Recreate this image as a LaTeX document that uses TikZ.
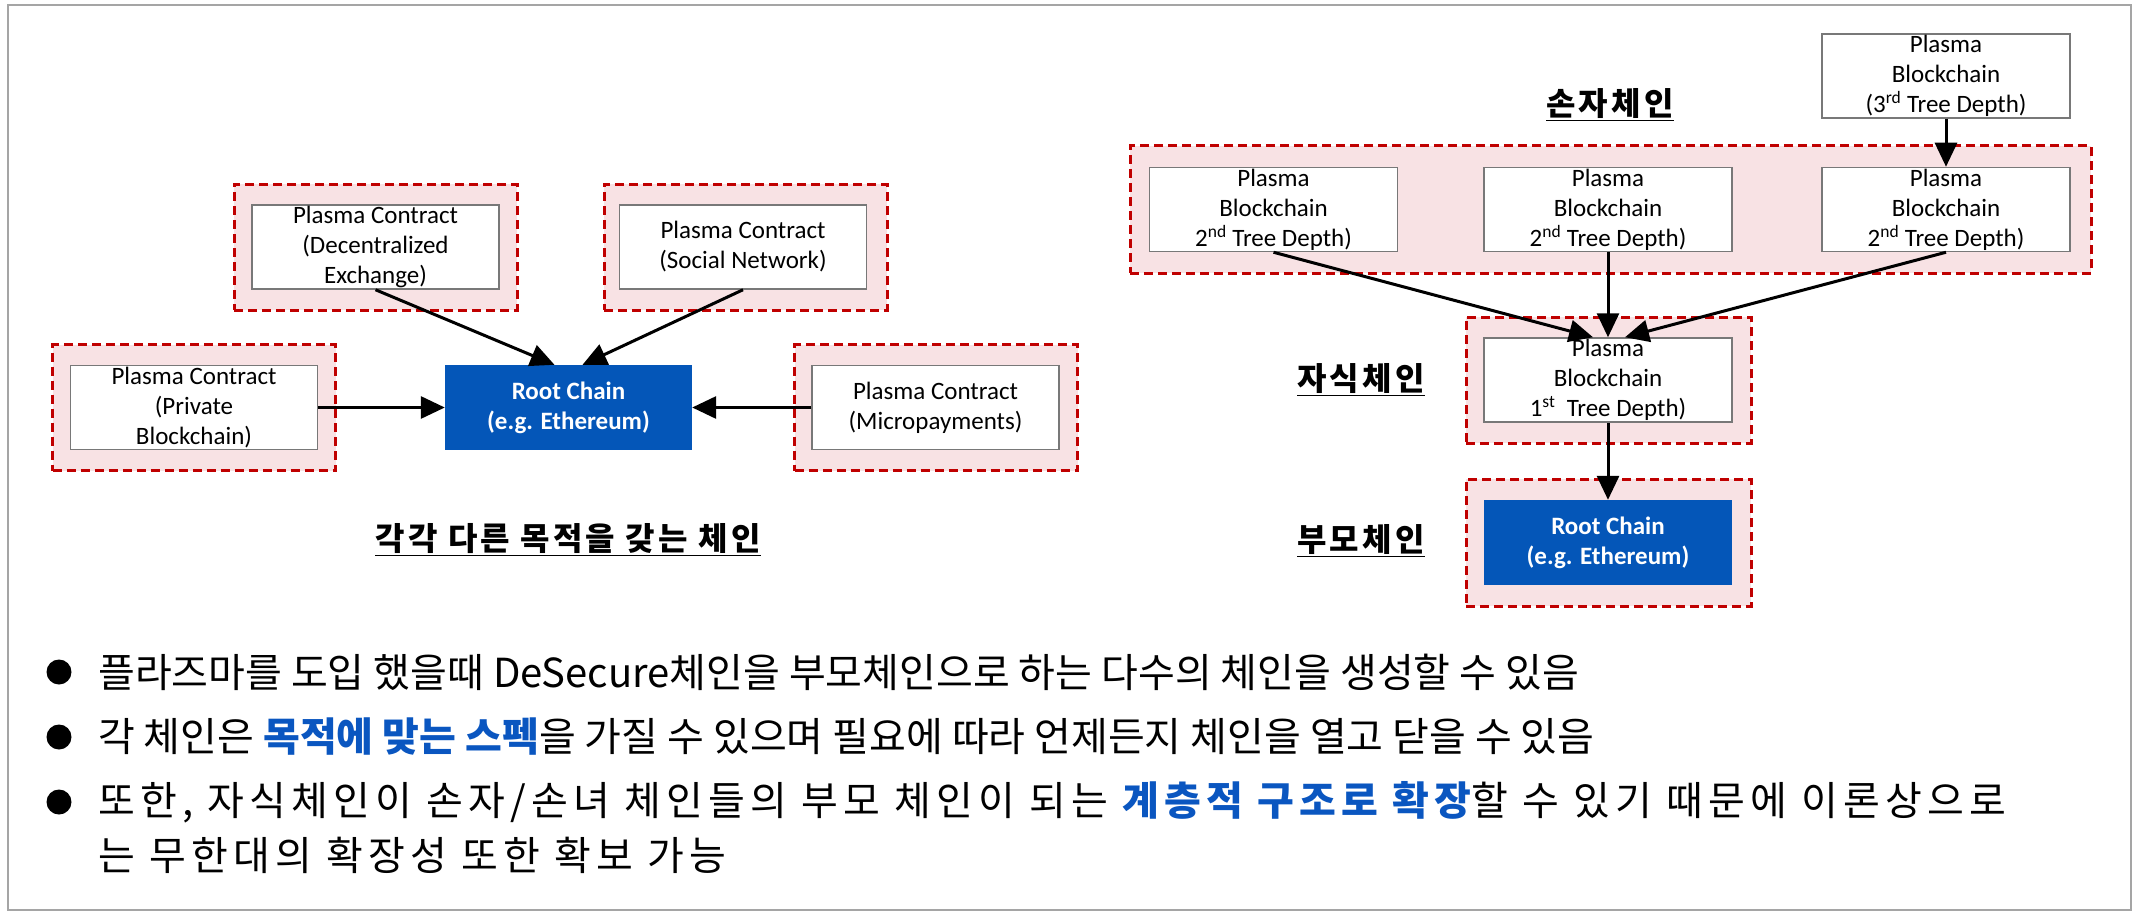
\documentclass[tikz,border=0pt]{standalone}
\usepackage{fontspec}
\setmainfont{Carlito}
\newfontfamily\kr{Noto Sans CJK KR}
\newfontfamily\krw{Noto Sans CJK KR}[LetterSpace=10]
\newfontfamily\krww{Noto Sans CJK KR}[LetterSpace=13]
\usetikzlibrary{arrows.meta}
\definecolor{rootblue}{RGB}{4,86,184}
\definecolor{pinkbg}{RGB}{248,226,228}
\definecolor{dashred}{RGB}{192,0,0}
\definecolor{hlblue}{RGB}{10,86,192}
\definecolor{boxgray}{RGB}{120,120,120}
\definecolor{framegray}{RGB}{165,165,165}
\begin{document}
\begin{tikzpicture}[x=1pt,y=-1pt,
  grp/.style={draw=dashred, fill=pinkbg, dash pattern=on 9pt off 5pt, line width=3pt, minimum width=283pt, minimum height=126pt, inner sep=0pt},
  pbox/.style={draw=boxgray, fill=white, line width=1.5pt, minimum width=247pt, minimum height=84pt, inner sep=0pt, align=center, font=\fontsize{25}{30}\selectfont},
  rootbox/.style={fill=rootblue, text=white, minimum width=247pt, minimum height=85pt, inner sep=0pt, align=center, font=\fontsize{25}{30}\selectfont\bfseries},
  arr/.style={line width=3pt, -{Triangle[length=24pt,width=22pt]}},
  lbl/.style={font=\krw\bfseries\fontsize{32}{38}\selectfont, inner sep=0pt},
  bul/.style={font=\kr\fontsize{40}{48}\selectfont, anchor=west, inner sep=0pt},
  bulw/.style={font=\krww\fontsize{40}{48}\selectfont, anchor=west, inner sep=0pt},
  dot/.style={circle, fill=black, minimum width=23pt, minimum height=25pt, inner sep=0pt}
]
\useasboundingbox (0,0) rectangle (2134,915);
\draw[framegray, line width=2pt] (8,5) rectangle (2131,910);

% ---------- left diagram ----------
\node[grp] (dexO) at (375.5,247) {};
\node[pbox] (dex) at (375.5,247) {Plasma Contract\\(Decentralized\\Exchange)};
\node[grp] (socO) at (745.5,247) {};
\node[pbox] (soc) at (743,247) {Plasma Contract\\(Social Network)};
\node[grp] (privO) at (194,407.5) {};
\node[pbox] (priv) at (194,407.5) {Plasma Contract\\(Private\\Blockchain)};
\node[rootbox] (root) at (568.5,407.5) {Root Chain\\(e.g. Ethereum)};
\node[grp] (microO) at (936,407.5) {};
\node[pbox] (micro) at (935.5,407.5) {Plasma Contract\\(Micropayments)};

\draw[arr] (dex.south) -- ([xshift=-14pt]root.north);
\draw[arr] (soc.south) -- ([xshift=14pt]root.north);
\draw[arr] (priv.east) -- (root.west);
\draw[arr] (micro.west) -- (root.east);

\node[lbl] (capL) at (568,540) {\underline{각각 다른 목적을 갖는 체인}};

% ---------- right diagram ----------
\node[pbox, minimum width=248pt] (d3) at (1946,76) {Plasma\\Blockchain\\(3\textsuperscript{rd} Tree Depth)};
\node[grp, minimum width=961pt, minimum height=127pt] (rowO) at (1610.5,209.5) {};
\node[pbox, minimum width=248pt] (b1) at (1273.5,209.5) {Plasma\\Blockchain\\2\textsuperscript{nd} Tree Depth)};
\node[pbox, minimum width=248pt] (b2) at (1608,209.5) {Plasma\\Blockchain\\2\textsuperscript{nd} Tree Depth)};
\node[pbox, minimum width=248pt] (b3) at (1946,209.5) {Plasma\\Blockchain\\2\textsuperscript{nd} Tree Depth)};
\node[grp, minimum width=285pt] (c1O) at (1608.5,380) {};
\node[pbox, minimum width=248pt] (c1) at (1608,380) {Plasma\\Blockchain\\1\textsuperscript{st}\ \ Tree Depth)};
\node[grp, minimum width=285pt, minimum height=127pt] (rootO) at (1608.5,542.5) {};
\node[rootbox, minimum width=248pt] (root2) at (1608,542.5) {Root Chain\\(e.g. Ethereum)};

\draw[arr] (d3.south) -- (b3.north);
\draw[arr] (b1.south) -- ([xshift=-15pt]c1.north);
\draw[arr] (b2.south) -- (c1.north);
\draw[arr] (b3.south) -- ([xshift=17pt]c1.north);
\draw[arr] (c1.south) -- (root2.north);

\node[lbl] (lblGrand) at (1610,105) {\underline{손자체인}};
\node[lbl] (lblChild) at (1361,380) {\underline{자식체인}};
\node[lbl] (lblParent) at (1361,541) {\underline{부모체인}};

% ---------- bullets ----------
\node[dot] (dot1) at (59,672) {};
\node[bul] (t1) at (98,672) {플라즈마를 도입 했을때 DeSecure체인을 부모체인으로 하는 다수의 체인을 생성할 수 있음};
\node[dot] (dot2) at (59,737) {};
\node[bul] (t2) at (98,737) {각 체인은 {\bfseries\color{hlblue}목적에 맞는 스펙}을 가질 수 있으며 필요에 따라 언제든지 체인을 열고 닫을 수 있음};
\node[dot] (dot3) at (59,802) {};
\node[bulw] (t3) at (98,802) {또한, 자식체인이 손자/손녀 체인들의 부모 체인이 되는 {\bfseries\color{hlblue}계층적 구조로 확장}할 수 있기 때문에 이론상으로};
\node[bulw] (t4) at (98,855) {는 무한대의 확장성 또한 확보 가능};
\end{tikzpicture}
\end{document}
